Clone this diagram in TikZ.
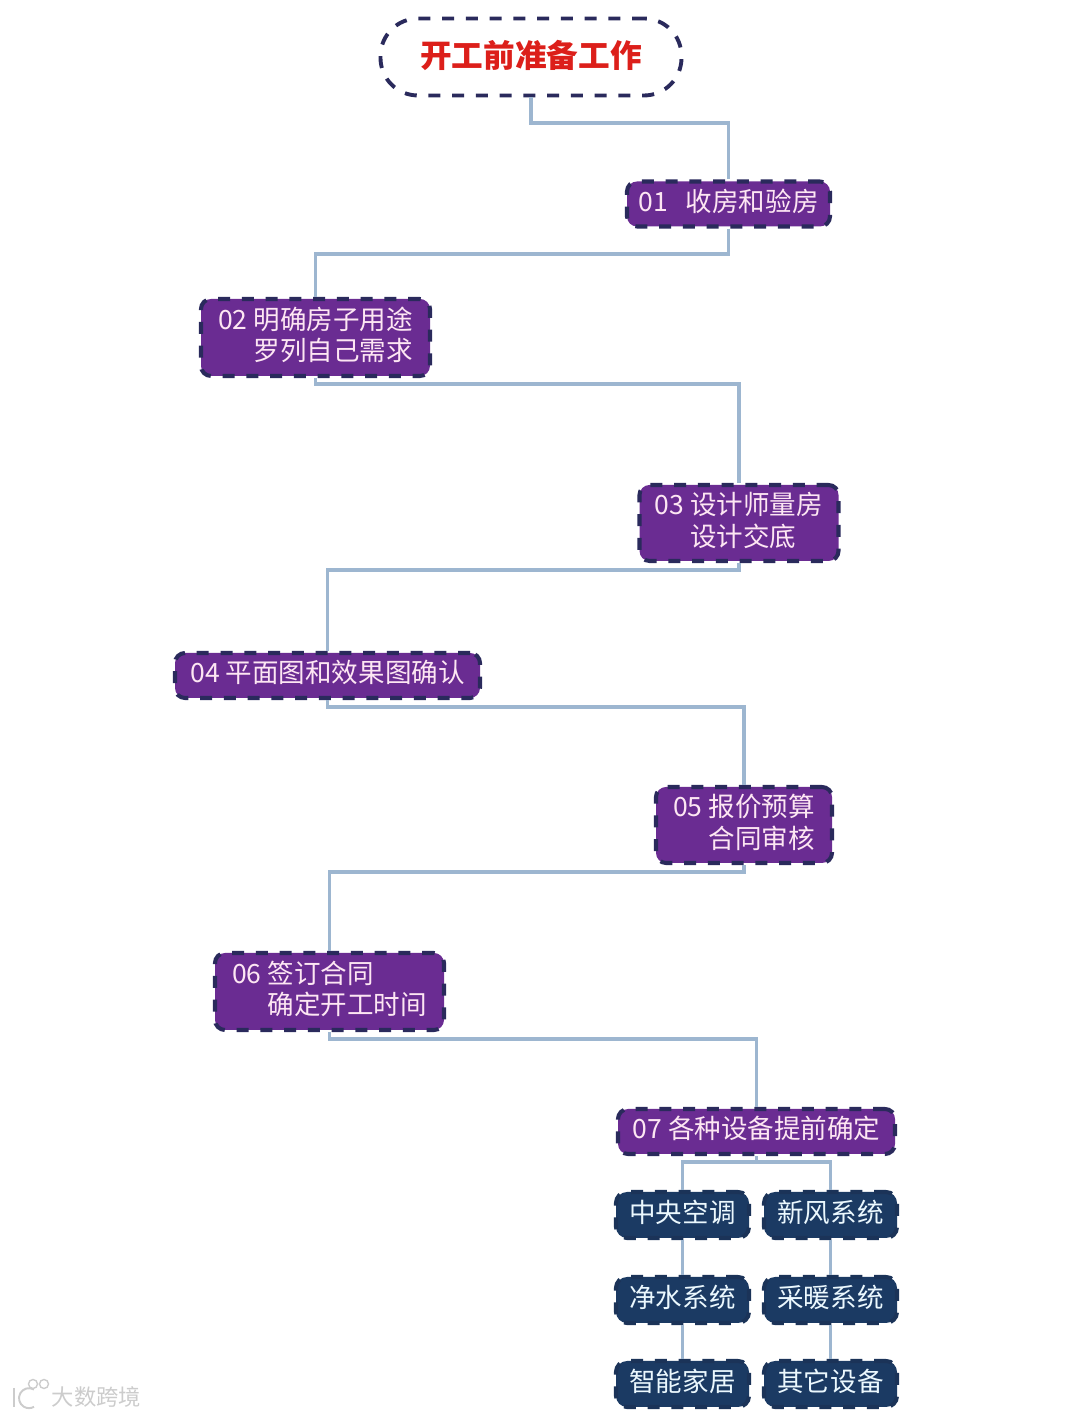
\documentclass[tikz,border=0pt]{standalone}
\usepackage{fontspec}
\setmainfont{Noto Sans CJK SC}
\usetikzlibrary{arrows.meta}

\definecolor{stepfill}{HTML}{6A2C92}
\definecolor{stepedge}{HTML}{2A2A5C}
\definecolor{devfill}{HTML}{1B3A63}
\definecolor{devedge}{HTML}{1B3358}
\definecolor{linkblue}{HTML}{9DB6D0}
\definecolor{rootred}{HTML}{DC1F1A}

\begin{document}
\begin{tikzpicture}[
  link/.style={draw=linkblue, line width=2.1pt},
  rootbox/.style={draw=stepedge, fill=white, line width=2.2pt, rounded corners=0.75cm,
                  dash pattern=on 0.24cm off 0.235cm,
                  minimum width=6.02cm, minimum height=1.54cm, inner sep=0pt, text depth=0.12cm,
                  font=\fontsize{18pt}{22pt}\selectfont\bfseries, text=rootred},
  stepbox/.style={draw=stepedge, fill=stepfill, line width=2.3pt, rounded corners=0.2cm,
                  dash pattern=on 0.24cm off 0.235cm,
                  minimum height=0.90cm, inner sep=0pt, align=left, text depth=0.15cm,
                  font=\fontsize{15.1pt}{17.9pt}\selectfont, text=white!90!magenta},
  devbox/.style={draw=devedge, fill=devfill, line width=2.3pt, rounded corners=0.22cm,
                 dash pattern=on 0.24cm off 0.235cm,
                 minimum width=2.66cm, minimum height=0.92cm, inner sep=0pt, text depth=0.14cm,
                 font=\fontsize{15.1pt}{17.9pt}\selectfont, text=white!92!cyan},
]
\useasboundingbox (0,0) rectangle (21.6,28.34);

%% Start
\node[rootbox] (root) at (10.62,27.20) {开工前准备工作};

%% Main steps
\node[stepbox, minimum width=4.06cm] (s1) at (14.57,24.26) {01\hspace{0.36cm}收房和验房};
\node[stepbox, minimum width=4.58cm, minimum height=1.54cm, align=right] (s2) at (6.31,21.59) {02 明确房子用途\\罗列自己需求};
\node[stepbox, minimum width=3.98cm, minimum height=1.52cm] (s3) at (14.78,17.88) {03 设计师量房\\\hphantom{03 }设计交底};
\node[stepbox, minimum width=6.10cm] (s4) at (6.55,14.83) {04 平面图和效果图确认};
\node[stepbox, minimum width=3.52cm, minimum height=1.52cm, align=right] (s5) at (14.88,11.84) {05 报价预算\\合同审核};
\node[stepbox, minimum width=4.58cm, minimum height=1.54cm] (s6) at (6.59,8.51) {06 签订合同\\\hphantom{06 }确定开工时间};
\node[stepbox, minimum width=5.54cm] (s7) at (15.13,5.71) {07 各种设备提前确定};

%% Devices
\node[devbox] (aircon) at (13.65,4.04) {中央空调};
\node[devbox] (fresh)  at (16.61,4.04) {新风系统};
\node[devbox] (water)  at (13.65,2.34) {净水系统};
\node[devbox] (heat)   at (16.61,2.34) {采暖系统};
\node[devbox] (smart)  at (13.65,0.66) {智能家居};
\node[devbox] (other)  at (16.61,0.66) {其它设备};

%% Connectors
\draw[link] (root.south) -- ++(0,-0.51) -| (s1.north);
\draw[link] (s1.south) -- ++(0,-0.51) -| (s2.north);
\draw[link] (s2.south) -- ++(0,-0.125) -| (s3.north);
\draw[link] (s3.south) -- ++(0,-0.145) -| (s4.north);
\draw[link] (s4.south) -- ++(0,-0.145) -| (s5.north);
\draw[link] (s5.south) -- ++(0,-0.145) -| (s6.north);
\draw[link] (s6.south) -- ++(0,-0.145) -| (s7.north);
\draw[link] (s7.south) -- ++(0,-0.125) -| (aircon.north);
\draw[link] (s7.south) -- ++(0,-0.125) -| (fresh.north);
\draw[link] (aircon) -- (water);
\draw[link] (water) -- (smart);
\draw[link] (fresh) -- (heat);
\draw[link] (heat) -- (other);

%% Watermark
\node[text=black!20, font=\fontsize{12.7pt}{15pt}\selectfont] (mark) at (1.93,0.40) {大数跨境};
\draw[black!20, line width=1.1pt] (0.28,0.58) -- (0.28,0.20);
\draw[black!20, line width=1.1pt] (0.68,0.55) arc[start angle=60, end angle=300, radius=0.20];
\draw[black!20, line width=0.8pt] (0.66,0.66) circle[radius=0.09] (0.88,0.66) circle[radius=0.09];
\end{tikzpicture}
\end{document}
